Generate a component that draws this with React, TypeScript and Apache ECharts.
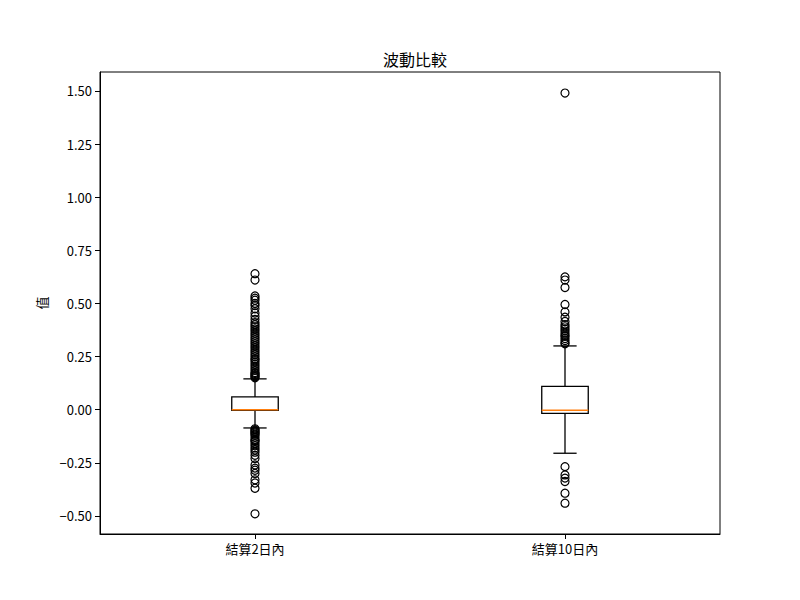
import React, { useEffect, useRef } from "react";
import * as echarts from "echarts";

const categories = ["結算2日內", "結算10日內"];
// [lowerWhisker, Q1, median, Q3, upperWhisker]
const boxStats = [
  [-0.086, -0.003, 0.0, 0.06, 0.145],
  [-0.205, -0.017, -0.003, 0.11, 0.3],
];
const outliers2d = [
  0.64, 0.61, 0.535, 0.525, 0.515, 0.5, 0.49, 0.475, 0.455, 0.44, 0.425, 0.41, 0.4, 0.39,
  0.38, 0.37, 0.36, 0.35, 0.34, 0.33, 0.32, 0.31, 0.3, 0.29, 0.28, 0.27, 0.26, 0.25, 0.24,
  0.235, 0.225, 0.215, 0.205, 0.195, 0.185, 0.175, 0.17, 0.165, 0.16, 0.155, 0.15,
  -0.09, -0.095, -0.1, -0.105, -0.11, -0.115, -0.12, -0.13, -0.14, -0.145, -0.15, -0.16,
  -0.17, -0.18, -0.19, -0.2, -0.215, -0.23, -0.26, -0.275, -0.285, -0.3, -0.33, -0.345,
  -0.37, -0.49,
];
const outliers10d = [
  1.49, 0.625, 0.61, 0.575, 0.495, 0.46, 0.435, 0.415, 0.4, 0.39, 0.38, 0.37, 0.36, 0.35,
  0.345, 0.335, 0.325, 0.315, 0.31, -0.268, -0.307, -0.322, -0.338, -0.393, -0.44,
];
const yTicks = [-0.5, -0.25, 0, 0.25, 0.5, 0.75, 1.0, 1.25, 1.5];
const yMin = -0.585;
const yMax = 1.589;

const FONT = "'Noto Sans CJK TC', 'Noto Sans', sans-serif";

export default function App() {
  const ref = useRef<HTMLDivElement>(null);
  useEffect(() => {
    document.body.style.margin = "0";
    const chart = echarts.init(ref.current!, null, { renderer: "svg" });
    const boxData = boxStats.map((s, i) => [i, ...s]);
    const outlierData = [
      ...outliers2d.map((v) => [0, v]),
      ...outliers10d.map((v) => [1, v]),
    ];
    chart.setOption({
      animation: false,
      backgroundColor: "#fff",
      title: {
        text: "波動比較",
        left: 410,
        top: 46,
        textAlign: "center",
        textStyle: { fontFamily: FONT, fontSize: 16, fontWeight: "normal", color: "#000" },
      },
      grid: {
        left: 100,
        right: 80,
        top: 72,
        bottom: 66,
        show: true,
        borderColor: "#000",
        borderWidth: 1,
        backgroundColor: "transparent",
      },
      xAxis: {
        type: "category",
        data: categories,
        boundaryGap: true,
        axisLine: { show: true, onZero: false, lineStyle: { color: "#000", width: 1 } },
        axisTick: { show: true, alignWithLabel: true, length: 5, lineStyle: { color: "#000" } },
        axisLabel: { color: "#000", fontFamily: FONT, fontSize: 13, margin: 8 },
        splitLine: { show: false },
      },
      yAxis: {
        type: "value",
        min: yMin,
        max: yMax,
        name: "值",
        nameLocation: "middle",
        nameGap: 52,
        nameRotate: 90,
        nameTextStyle: { color: "#000", fontFamily: FONT, fontSize: 13 },
        axisLine: { show: true, onZero: false, lineStyle: { color: "#000", width: 1 } },
        axisTick: { show: true, length: 5, customValues: yTicks, lineStyle: { color: "#000" } },
        axisLabel: {
          color: "#000",
          fontFamily: FONT,
          fontSize: 13,
          margin: 8,
          customValues: yTicks,
          formatter: (v: number) => v.toFixed(2).replace("-", "\u2212"),
        },
        splitLine: { show: false },
      },
      series: [
        {
          type: "custom",
          data: boxData,
          encode: { x: 0, y: [1, 2, 3, 4, 5] },
          renderItem: (params: any, api: any) => {
            const x = api.value(0);
            const lo = api.coord([x, api.value(1)]);
            const q1 = api.coord([x, api.value(2)]);
            const med = api.coord([x, api.value(3)]);
            const q3 = api.coord([x, api.value(4)]);
            const hi = api.coord([x, api.value(5)]);
            const band = api.size([1, 0])[0];
            const half = band * 0.075;
            const cap = half / 2;
            const cx = q1[0];
            const blk = { stroke: "#000", lineWidth: 1.3, fill: "none" };
            return {
              type: "group",
              children: [
                { type: "line", shape: { x1: cx, y1: q1[1], x2: cx, y2: lo[1] }, style: blk },
                { type: "line", shape: { x1: cx, y1: q3[1], x2: cx, y2: hi[1] }, style: blk },
                { type: "line", shape: { x1: cx - cap, y1: lo[1], x2: cx + cap, y2: lo[1] }, style: blk },
                { type: "line", shape: { x1: cx - cap, y1: hi[1], x2: cx + cap, y2: hi[1] }, style: blk },
                {
                  type: "rect",
                  shape: { x: cx - half, y: q3[1], width: half * 2, height: q1[1] - q3[1] },
                  style: blk,
                },
                {
                  type: "line",
                  shape: { x1: cx - half, y1: med[1], x2: cx + half, y2: med[1] },
                  style: { stroke: "#ff7f0e", lineWidth: 1.5 },
                },
              ],
            };
          },
          z: 3,
        },
        {
          type: "scatter",
          data: outlierData,
          symbol: "circle",
          symbolSize: 8,
          itemStyle: { color: "none", borderColor: "#000", borderWidth: 1.2, opacity: 1 },
          z: 2,
        },
      ],
    });
    return () => chart.dispose();
  }, []);
  return (
    <div
      ref={ref}
      style={{ position: "fixed", left: 0, top: 0, width: 800, height: 600 }}
    />
  );
}
